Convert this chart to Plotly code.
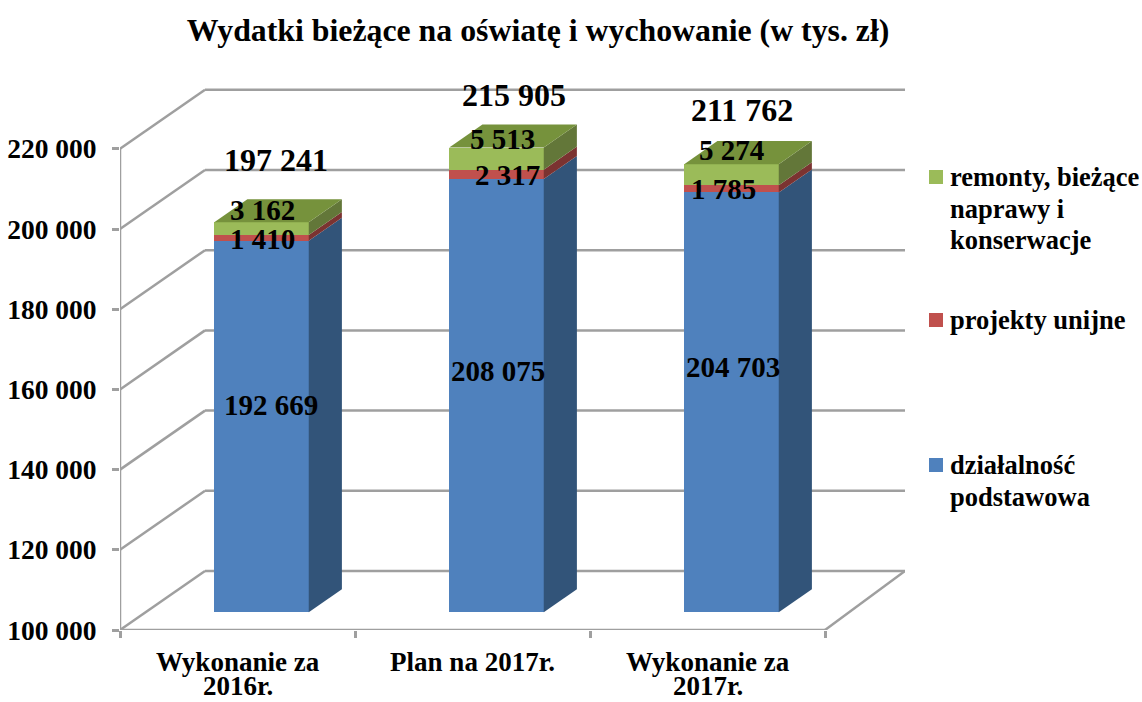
import plotly.graph_objects as go

categories = ["Wykonanie za<br>2016r.", "Plan na 2017r.", "Wykonanie za<br>2017r."]
podstawowa = [192669, 208075, 204703]
unijne = [1410, 2317, 1785]
remonty = [3162, 5513, 5274]
totals = [197241, 215905, 211762]
tick_values = [100000, 120000, 140000, 160000, 180000, 200000, 220000]
tick_labels = ["100 000", "120 000", "140 000", "160 000", "180 000", "200 000", "220 000"]
legend_names = ["remonty, bieżące<br>naprawy i<br>konserwacje", "projekty unijne", "działalność<br>podstawowa"]

# hand-placed label offsets in the reference (pixels from the anchor: dx, dy upward)
shift_podstawowa = [(9, 22), (1, 25), (1, 35)]
shift_unijne = [(1, -1), (11, -1), (-8, 0)]
shift_remonty = [(1, 19), (6, 20), (0, 25)]
shift_totals = [(14, 62), (17, 53), (10, 54)]

FONT = "Liberation Serif"
GRID = "#9f9f9f"
W, H = 1142, 702
L, R, T, B = 120, 905, 88, 630
PX_X = 235.0          # pixels per category
PX_Y = 4.01 / 1000.0  # pixels per value unit
WALL_DX, WALL_DY = 85 / PX_X, 59 / PX_Y
BAR_W = 94.5 / PX_X
BAR_SHIFT = -1.5 / PX_X
D0, D1 = 0.30, 0.69
X0, X1 = -0.5, 2.5
XMAX = X0 + (R - L) / PX_X
YMIN = tick_values[0]


def proj(cat, val, depth):
    """Oblique projection: depth 0 = axis plane, depth 1 = back wall."""
    return cat + BAR_SHIFT * (depth > 0 and depth < 1) + depth * WALL_DX, val + depth * WALL_DY


def py(pixel_y):
    return (B - pixel_y) / (B - T)


fig = go.Figure()
shapes = []
annotations = []


def seg(p, q):
    shapes.append(dict(type="line", x0=p[0], y0=p[1], x1=q[0], y1=q[1], layer="below",
                       line=dict(color=GRID, width=2.5)))


for v in tick_values:
    seg(proj(X0, v, 0), proj(X0, v, 1))
    seg(proj(X0, v, 1), (XMAX, v + WALL_DY))
seg(proj(X1, YMIN, 0), (XMAX, YMIN + WALL_DY))
seg((X0, YMIN), (X1, YMIN))
seg((X0, YMIN), (X0, tick_values[-1]))

series = [
    (legend_names[2], podstawowa, "#4f81bd", "#325479", None, shift_podstawowa),
    (legend_names[1], unijne, "#c0504d", "#7b3331", None, shift_unijne),
    (legend_names[0], remonty, "#9bbb59", "#637739", "#76923c", shift_remonty),
]


def fmt(v):
    return f"{v:,}".replace(",", " ")


def label(x, y, text, shift, size=29):
    annotations.append(dict(x=x, y=y, text=f"<b>{text}</b>", xref="x", yref="y", showarrow=False,
                            xshift=shift[0], yshift=shift[1], xanchor="center", yanchor="middle",
                            font=dict(family=FONT, size=size, color="black")))


base = [float(YMIN)] * 3
for i, (name, vals, col, side, top, shifts) in enumerate(series):
    ends = [b + v - (YMIN if i == 0 else 0) for b, v in zip(base, vals)]
    off = D0 * WALL_DY
    fx = [proj(c, 0, D0)[0] for c in range(3)]
    fig.add_trace(go.Bar(x=fx, y=[e - b for e, b in zip(ends, base)],
                         base=[b + off for b in base], width=BAR_W, name=name.replace("<br>", " "),
                         marker=dict(color=col, line=dict(width=0)), showlegend=False, hoverinfo="skip"))
    for c in range(3):
        xr = c + BAR_W / 2
        pts = [proj(xr, base[c], D0), proj(xr, ends[c], D0), proj(xr, ends[c], D1), proj(xr, base[c], D1)]
        pts.append(pts[0])
        fig.add_trace(go.Scatter(x=[p[0] for p in pts], y=[p[1] for p in pts], mode="lines", fill="toself",
                                 fillcolor=side, line=dict(width=0), showlegend=False, hoverinfo="skip"))
        if top:
            xl = c - BAR_W / 2
            pts = [proj(xl, ends[c], D0), proj(xr, ends[c], D0), proj(xr, ends[c], D1), proj(xl, ends[c], D1)]
            pts.append(pts[0])
            fig.add_trace(go.Scatter(x=[p[0] for p in pts], y=[p[1] for p in pts], mode="lines", fill="toself",
                                     fillcolor=top, line=dict(width=0), showlegend=False, hoverinfo="skip"))
        label(fx[c], (base[c] + ends[c]) / 2 + off, fmt(vals[c]), shifts[c])
    base = ends

for c in range(3):
    label(proj(c, 0, D0)[0], base[c] + D0 * WALL_DY, fmt(totals[c]), shift_totals[c], size=32)

# legend drawn to the reference's layout: swatch level with the first text line
LEGEND_COLORS = ["#9bbb59", "#c0504d", "#4f81bd"]
LEGEND_TOPS = [177, 320, 465]
LINE_STEP = 31.5
for name, col, y0 in zip(legend_names, LEGEND_COLORS, LEGEND_TOPS):
    shapes.append(dict(type="rect", xref="paper", yref="paper", x0=(929 - L) / (R - L), x1=(943 - L) / (R - L),
                       y0=py(y0 + 7), y1=py(y0 - 7), fillcolor=col, line=dict(width=0)))
    for k, part in enumerate(name.split("<br>")):
        annotations.append(dict(x=(948 - L) / (R - L), y=py(y0 + k * LINE_STEP), xref="paper", yref="paper",
                                text=f"<b>{part}</b>", showarrow=False, xanchor="left", yanchor="middle",
                                font=dict(family=FONT, size=26.5, color="black")))

# second lines of the category labels keep the reference's tight line spacing
first_lines = []
for c, cat in enumerate(categories):
    parts = cat.split("<br>")
    first_lines.append(f"<b>{parts[0]}</b>")
    if len(parts) > 1:
        annotations.append(dict(x=c, y=py(686), xref="x", yref="paper", text=f"<b>{parts[1]}</b>",
                                showarrow=False, xanchor="center", yanchor="middle",
                                font=dict(family=FONT, size=27, color="black")))

fig.update_layout(
    width=W, height=H, autosize=False, barmode="overlay", bargap=0, showlegend=False,
    paper_bgcolor="white", plot_bgcolor="white",
    margin=dict(l=L, r=W - R, t=T, b=H - B, autoexpand=False),
    shapes=shapes, annotations=annotations,
    title=dict(text="<b>Wydatki bieżące na oświatę i wychowanie (w tys. zł)</b>", x=538 / W, xanchor="center",
               y=1 - 30 / H, yanchor="middle", font=dict(family=FONT, size=31.8, color="black")),
    font=dict(family=FONT, color="black"),
    xaxis=dict(range=[X0, XMAX], showgrid=False, zeroline=False, showline=False, tickmode="array",
               tickvals=[0, 1, 2], ticktext=first_lines, ticks="", ticklabelstandoff=13,
               tickfont=dict(family=FONT, size=27), fixedrange=True,
               minor=dict(tickmode="array", tickvals=[-0.5, 0.5, 1.5, 2.5], ticks="outside", ticklen=7,
                          tickcolor=GRID, tickwidth=2.5)),
    yaxis=dict(range=[YMIN, YMIN + (B - T) / PX_Y], showgrid=False, zeroline=False, showline=False,
               tickmode="array", tickvals=tick_values, ticktext=[f"<b>{t}</b>" for t in tick_labels],
               ticks="outside", ticklen=7, tickcolor=GRID, tickwidth=2.5, ticklabelstandoff=10,
               tickfont=dict(family=FONT, size=27.5), fixedrange=True),
)
fig.write_html("out.html", config={"displayModeBar": False}, post_script="document.body.style.margin='0';")
